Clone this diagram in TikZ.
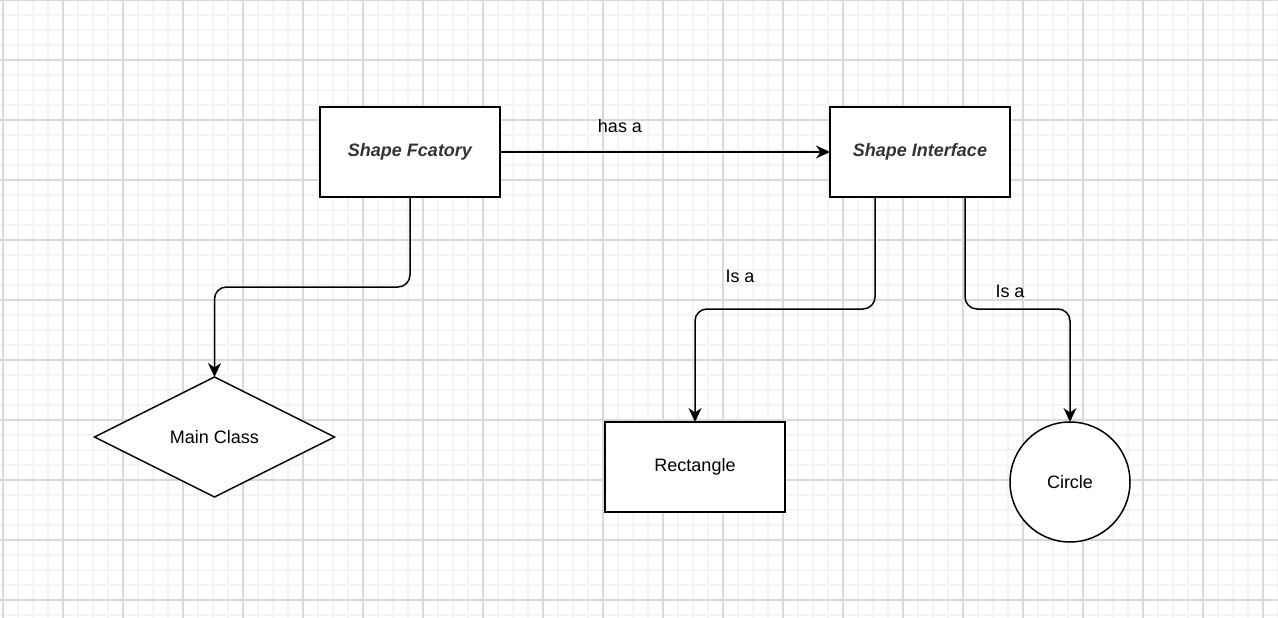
\documentclass[tikz,border=0pt]{standalone}
\usepackage{fontspec}
\setmainfont{Liberation Sans}
\usetikzlibrary{shapes.geometric,arrows.meta}
\definecolor{minorgrid}{HTML}{F4F4F4}
\definecolor{majorgrid}{HTML}{D9D9D9}
\definecolor{titletext}{HTML}{333333}
\tikzset{
  boxnode/.style={draw=black, line width=1.5pt, fill=white, minimum width=180pt, minimum height=90pt, inner sep=0pt, outer sep=0pt},
  diamondnode/.style={draw=black, line width=1.5pt, fill=white, diamond, shape aspect=2, minimum width=240pt, minimum height=120pt, inner sep=0pt, outer sep=0pt},
  circlenode/.style={draw=black, line width=1.5pt, fill=white, circle, minimum size=120pt, inner sep=0pt, outer sep=0pt},
  titlefont/.style={font=\fontsize{18}{21}\selectfont\bfseries\itshape, text=titletext},
  plainfont/.style={font=\fontsize{18}{21}\selectfont, text=black},
  arr/.style={draw=black, line width=1.5pt, rounded corners=12pt, -{Stealth[length=14pt, width=13pt, inset=4.5pt]}},
  lbl/.style={plainfont, inner sep=0pt}
}
\begin{document}
\begin{tikzpicture}[x=1pt, y=-1pt]
\useasboundingbox (0,0) rectangle (1278,618);
\fill[white] (0,0) rectangle (1278,618);
% minor grid
\foreach \x in {3,18,...,1278} \draw[minorgrid, line width=1.3pt] (\x,0) -- (\x,618);
\foreach \y in {0,15,...,618} \draw[minorgrid, line width=1.3pt] (0,\y) -- (1278,\y);
% major grid
\foreach \x in {3,63,...,1278} \draw[majorgrid, line width=1.2pt] (\x,0) -- (\x,618);
\foreach \y in {0,60,...,618} \draw[majorgrid, line width=1.2pt] (0,\y) -- (1278,\y);

\node[boxnode, titlefont] (sf) at (410,152) {Shape Fcatory};
\node[boxnode, titlefont] (si) at (920,152) {Shape Interface};
\node[diamondnode, plainfont] (mc) at (214.5,437) {Main Class};
\node[boxnode, plainfont] (re) at (695,467) {Rectangle};
\node[circlenode, plainfont] (ci) at (1070,482) {Circle};

\draw[arr] (sf.east) -- (si.west);
\draw[arr] (sf.south) -- (sf.south |- 0,287) -| (mc.north);
\draw[arr] ([xshift=-45pt]si.south) -- ([xshift=-45pt]si.south |- 0,309) -| (re.north);
\draw[arr] ([xshift=45pt]si.south) -- ([xshift=45pt]si.south |- 0,309) -| (ci.north);

\node[lbl] (l1) at (620,126) {has a};
\node[lbl] (l2) at (740,276) {Is a};
\node[lbl] (l3) at (1010,291) {Is a};
\end{tikzpicture}
\end{document}
